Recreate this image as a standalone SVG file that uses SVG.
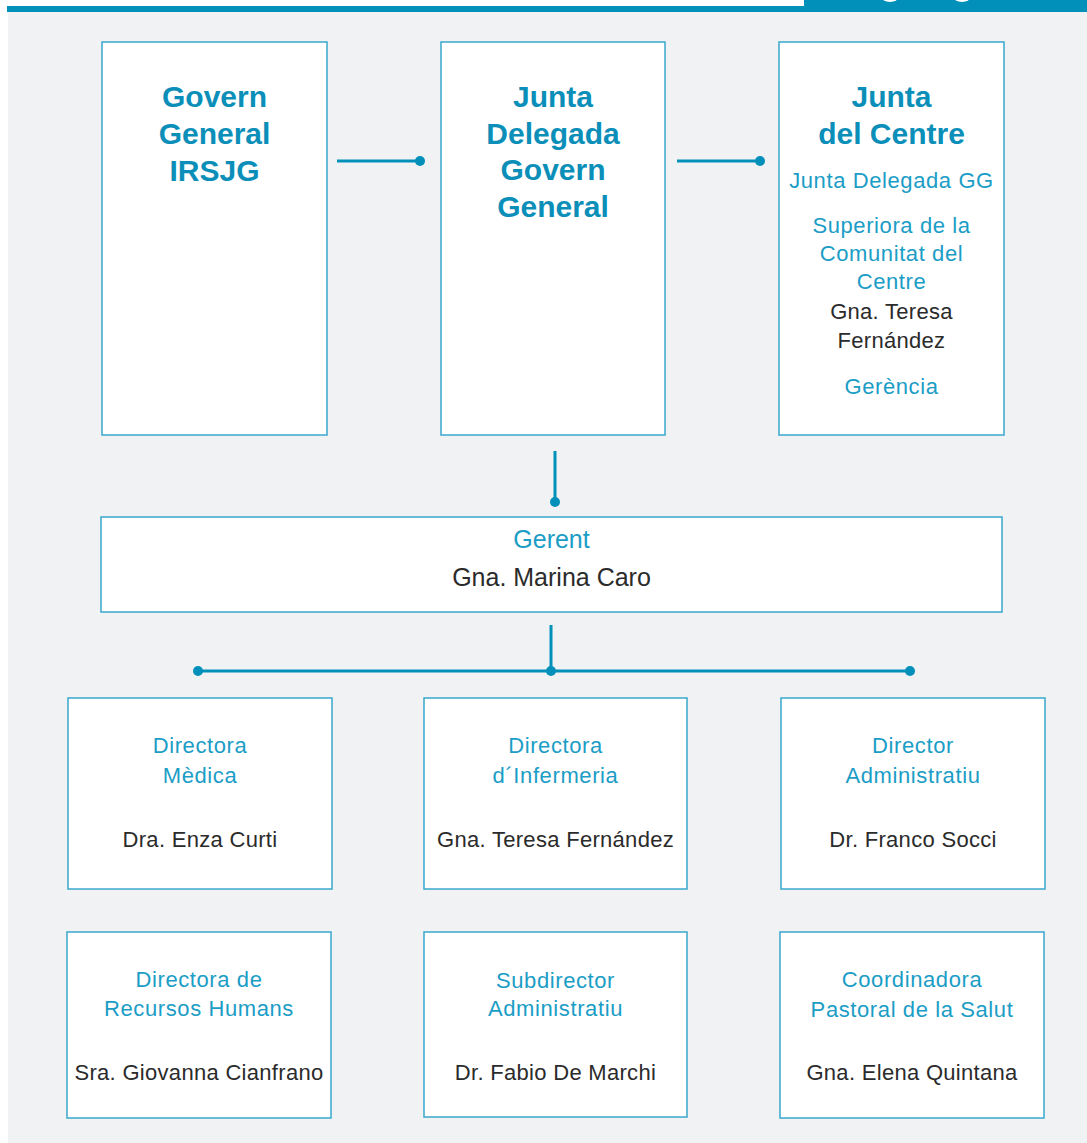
<svg xmlns="http://www.w3.org/2000/svg" width="1087" height="1143" viewBox="0 0 1087 1143">
<defs>
<style>
.box{fill:#ffffff;stroke:#3aa8cc;stroke-width:1.5}
.ln{stroke:#0090ba;stroke-width:3;fill:none}
.dot{fill:#0090ba}
.tb{font-family:"Liberation Sans",Arial,sans-serif;font-weight:bold;font-size:30px;fill:#0b8fb9;text-anchor:middle}
.tl{font-family:"Liberation Sans",Arial,sans-serif;font-size:22px;letter-spacing:0.6px;fill:#1b9dc6;text-anchor:middle}
.tn{font-family:"Liberation Sans",Arial,sans-serif;font-size:22px;letter-spacing:0.3px;fill:#2b2b2b;text-anchor:middle}
.big{font-size:25px;letter-spacing:0px}
</style>
</defs>
<rect x="0" y="0" width="1087" height="1143" fill="#ffffff"/>
<rect x="8" y="12" width="1079" height="1131" fill="#f1f2f4"/>
<rect x="7" y="6" width="1080" height="6" fill="#0090ba"/>
<rect x="804" y="0" width="283" height="12" fill="#0090ba"/>
<ellipse cx="890" cy="-4" rx="9" ry="6" fill="#ffffff"/>
<ellipse cx="962" cy="-4" rx="9" ry="6" fill="#ffffff"/>

<g id="connectors">
<line class="ln" x1="337" y1="161" x2="420" y2="161"/>
<circle class="dot" cx="420" cy="161" r="5"/>
<line class="ln" x1="677" y1="161" x2="760" y2="161"/>
<circle class="dot" cx="760" cy="161" r="5"/>
<line class="ln" x1="555" y1="451" x2="555" y2="502"/>
<circle class="dot" cx="555" cy="502" r="5"/>
<line class="ln" x1="551" y1="625" x2="551" y2="671"/>
<line class="ln" x1="198" y1="671" x2="910" y2="671"/>
<circle class="dot" cx="198" cy="671" r="5"/>
<circle class="dot" cx="551" cy="671" r="5"/>
<circle class="dot" cx="910" cy="671" r="5"/>
</g>

<g id="govern-general">
<rect class="box" x="102" y="42" width="225" height="393"/>
<text class="tb" x="214.5" y="107">Govern</text>
<text class="tb" x="214.5" y="144">General</text>
<text class="tb" x="214.5" y="181">IRSJG</text>
</g>

<g id="junta-delegada">
<rect class="box" x="441" y="42" width="224" height="393"/>
<text class="tb" x="553" y="107">Junta</text>
<text class="tb" x="553" y="143.5">Delegada</text>
<text class="tb" x="553" y="180">Govern</text>
<text class="tb" x="553" y="217">General</text>
</g>

<g id="junta-centre">
<rect class="box" x="779" y="42" width="225" height="393"/>
<text class="tb" x="891.5" y="107">Junta</text>
<text class="tb" x="891.5" y="144">del Centre</text>
<text class="tl" x="891.5" y="188">Junta Delegada GG</text>
<text class="tl" x="891.5" y="233">Superiora de la</text>
<text class="tl" x="891.5" y="261">Comunitat del</text>
<text class="tl" x="891.5" y="289">Centre</text>
<text class="tn" x="891.5" y="319">Gna. Teresa</text>
<text class="tn" x="891.5" y="348">Fernández</text>
<text class="tl" x="891.5" y="394">Gerència</text>
</g>

<g id="gerent">
<rect class="box" x="101" y="517" width="901" height="95"/>
<text class="tl big" x="551.5" y="548">Gerent</text>
<text class="tn big" x="551.5" y="586">Gna. Marina Caro</text>
</g>

<g id="directora-medica">
<rect class="box" x="68" y="698" width="264" height="191"/>
<text class="tl" x="200" y="753">Directora</text>
<text class="tl" x="200" y="783">Mèdica</text>
<text class="tn" x="200" y="847">Dra. Enza Curti</text>
</g>

<g id="directora-infermeria">
<rect class="box" x="424" y="698" width="263" height="191"/>
<text class="tl" x="555.5" y="753">Directora</text>
<text class="tl" x="555.5" y="783">d´Infermeria</text>
<text class="tn" x="555.5" y="847">Gna. Teresa Fernández</text>
</g>

<g id="director-administratiu">
<rect class="box" x="781" y="698" width="264" height="191"/>
<text class="tl" x="913" y="753">Director</text>
<text class="tl" x="913" y="783">Administratiu</text>
<text class="tn" x="913" y="847">Dr. Franco Socci</text>
</g>

<g id="directora-rrhh">
<rect class="box" x="67" y="932" width="264" height="186"/>
<text class="tl" x="199" y="987">Directora de</text>
<text class="tl" x="199" y="1016">Recursos Humans</text>
<text class="tn" x="199" y="1080">Sra. Giovanna Cianfrano</text>
</g>

<g id="subdirector-administratiu">
<rect class="box" x="424" y="932" width="263" height="185"/>
<text class="tl" x="555.5" y="988">Subdirector</text>
<text class="tl" x="555.5" y="1016">Administratiu</text>
<text class="tn" x="555.5" y="1080">Dr. Fabio De Marchi</text>
</g>

<g id="coordinadora-pastoral">
<rect class="box" x="780" y="932" width="264" height="186"/>
<text class="tl" x="912" y="987">Coordinadora</text>
<text class="tl" x="912" y="1017">Pastoral de la Salut</text>
<text class="tn" x="912" y="1080">Gna. Elena Quintana</text>
</g>
</svg>
